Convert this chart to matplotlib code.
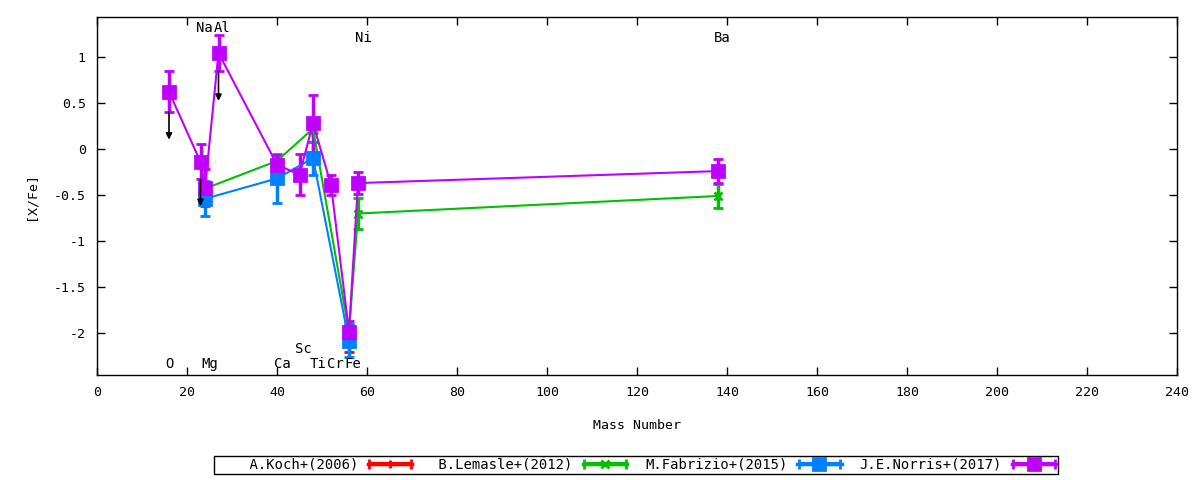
import numpy as np
import matplotlib
matplotlib.use("Agg")
from matplotlib import pyplot as plt
from matplotlib.legend_handler import HandlerErrorbar

plt.rcParams["font.family"] = ["DejaVu Sans Mono"]
plt.rcParams["font.size"] = 9.5

# mass numbers of the elements
koch_x = [56]
koch_y = [-2.08]
koch_e = [0.12]

lemasle_x = [24, 40, 48, 56, 58, 138]
lemasle_y = [-0.43, -0.13, 0.22, -1.98, -0.70, -0.51]
lemasle_e = [0.06, 0.03, 0.05, 0.08, 0.17, 0.13]

fabrizio_x = [24, 40, 48, 56]
fabrizio_y = [-0.54, -0.32, -0.10, -2.08]
fabrizio_e = [0.19, 0.27, 0.18, 0.18]

norris_x = [16, 23, 24, 27, 40, 45, 48, 52, 56, 58, 138]
norris_y = [0.62, -0.14, -0.42, 1.04, -0.17, -0.28, 0.28, -0.39, -1.98, -0.37, -0.24]
norris_e = [0.22, 0.19, 0.2, 0.2, 0.1, 0.22, 0.31, 0.11, 0.12, 0.12, 0.13]

# upper limits (x, start, end)
limit_x = [16, 23, 27]
limit_y0 = [0.40, -0.33, 0.84]
limit_y1 = [0.10, -0.62, 0.52]

labels = ["O", "Na", "Mg", "Al", "Ca", "Sc", "Ti", "Cr", "Fe", "Ni", "Ba"]
label_x = [16.0, 23.9, 25.0, 27.8, 41.1, 45.8, 49.1, 53.0, 56.9, 59.1, 138.9]
label_y = [-2.33, 1.31, -2.33, 1.31, -2.33, -2.17, -2.33, -2.33, -2.33, 1.2, 1.2]

series = [
    ("A.Koch+(2006)", koch_x, koch_y, koch_e, "#ff0000", "+"),
    ("B.Lemasle+(2012)", lemasle_x, lemasle_y, lemasle_e, "#00c000", "x"),
    ("M.Fabrizio+(2015)", fabrizio_x, fabrizio_y, fabrizio_e, "#0080ff", "s"),
    ("J.E.Norris+(2017)", norris_x, norris_y, norris_e, "#c000ff", "s"),
]

fig = plt.figure(figsize=(12, 4.8), dpi=100)
ax = fig.add_axes([97 / 1200, 1 - 375 / 480, 1080 / 1200, 358 / 480])

handles = []
names = []
for name, x, y, e, color, marker in series:
    ms = 8 if marker == "s" else 6
    ax.errorbar(x, y, yerr=e, color=color, marker=marker, markersize=ms,
                markeredgewidth=2, lw=1.5, elinewidth=2.5, capsize=3.5, capthick=2.5)
    h = ax.errorbar([np.nan], [np.nan], xerr=[1], color=color, marker=marker,
                    markersize=ms, markeredgewidth=2, lw=2.5, elinewidth=3,
                    capsize=3.5, capthick=2.5)
    handles.append(h)
    names.append(name.rjust(17))

for x, y0, y1 in zip(limit_x, limit_y0, limit_y1):
    ax.annotate("", xy=(x, y1), xytext=(x, y0),
                arrowprops=dict(arrowstyle="-|>", color="black", lw=1.2,
                                mutation_scale=9, shrinkA=0, shrinkB=0))

for lab, x, y in zip(labels, label_x, label_y):
    ax.text(x, y, lab, ha="center", va="center", fontsize=10)

ax.set_xlim(0, 240)
ax.set_ylim(-2.45, 1.43)
ax.set_xticks(np.arange(0, 241, 20))
ax.set_yticks([-2, -1.5, -1, -0.5, 0, 0.5, 1])
ax.set_yticklabels(["-2", "-1.5", "-1", "-0.5", "0", "0.5", "1"])
ax.tick_params(direction="in", length=6, width=1, top=True, right=True, pad=8)
for s in ax.spines.values():
    s.set_linewidth(1)
ax.set_xlabel("Mass Number", labelpad=14)
ax.set_ylabel("[X/Fe]", labelpad=12)

leg = fig.legend(handles, names, ncol=4, numpoints=1,
                 loc="center", bbox_to_anchor=(636 / 1200, 1 - 465 / 480),
                 markerfirst=False, frameon=True, fancybox=False,
                 edgecolor="black", framealpha=1, handlelength=3.2,
                 columnspacing=1.3, borderpad=0.15, handletextpad=0.7,
                 fontsize=10,
                 handler_map={type(handles[0]): HandlerErrorbar(xerr_size=1.5)})
leg.get_frame().set_linewidth(1)

fig.savefig("out.png", dpi=100)
